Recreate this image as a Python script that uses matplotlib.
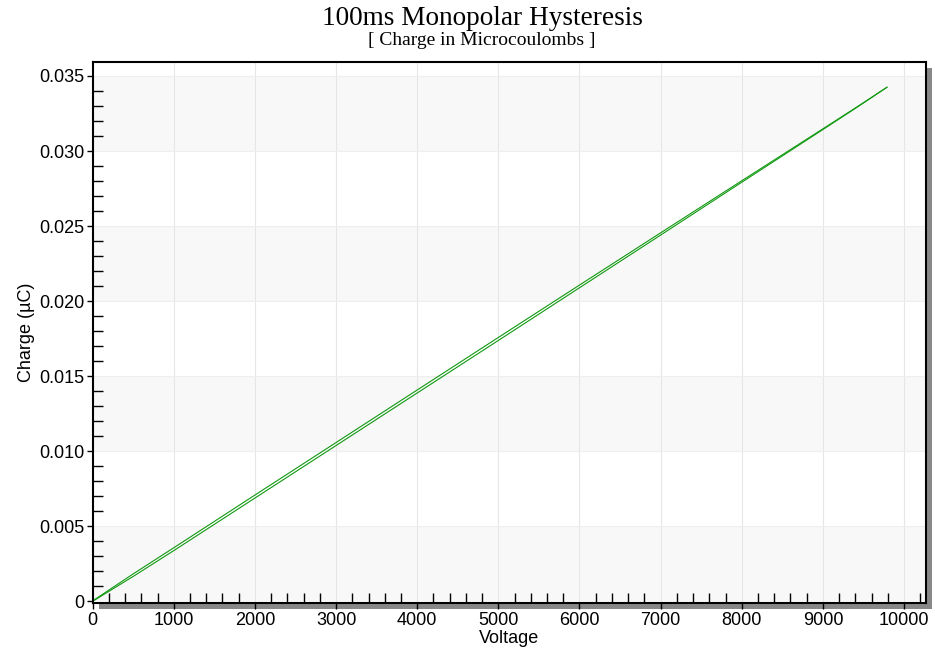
import matplotlib
matplotlib.use("Agg")
import matplotlib.pyplot as plt
from matplotlib.ticker import MultipleLocator, FuncFormatter

# hysteresis loop: charging (lower) and discharging (upper) branch
voltage = [0, 500, 1000, 2000, 3000, 4000, 5000, 6000, 7000, 8000, 9000, 9400, 9790]
charge_up = [0.0, 0.00166, 0.00338, 0.00688, 0.01038, 0.01388, 0.01738, 0.02089, 0.02440, 0.02792, 0.03143, 0.03284, 0.03425]
charge_down = [0.00003, 0.00183, 0.00357, 0.00708, 0.01058, 0.01408, 0.01758, 0.02107, 0.02455, 0.02802, 0.03148, 0.03287, 0.03425]

xmin, xmax = 0, 10270
ymin, ymax = -0.00013, 0.03593

fig = plt.figure(figsize=(9.35, 6.62), dpi=100)
pos = [0.0991, 0.0887, 0.8912, 0.8176]

# drop shadow behind the plot area
dx, dy = 6 / 935, 6 / 662
shadow = fig.add_axes([pos[0] + dx, pos[1] - dy, pos[2], pos[3]])
shadow.set_facecolor("#888888")
shadow.set_xticks([])
shadow.set_yticks([])
for s in shadow.spines.values():
    s.set_visible(False)
shadow.set_zorder(0)

ax = fig.add_axes(pos)
ax.set_zorder(1)
ax.set_xlim(xmin, xmax)
ax.set_ylim(ymin, ymax)

# alternating bands
for lo in [0.0, 0.010, 0.020, 0.030]:
    ax.axhspan(lo, lo + 0.005, color="#f8f8f8", zorder=0, lw=0)
ax.set_facecolor("white")

for xv in range(1000, 11000, 1000):
    ax.axvline(xv, color="#e6e6e6", lw=0.8, zorder=1)
for yv in [0.005, 0.010, 0.015, 0.020, 0.025, 0.030, 0.035]:
    ax.axhline(yv, color="#eeeeee", lw=0.8, zorder=1)

ax.plot(voltage, charge_up, color="#119911", lw=0.8, zorder=3)
ax.plot(voltage, charge_down, color="#119911", lw=0.8, zorder=3)

ax.xaxis.set_major_locator(MultipleLocator(1000))
ax.xaxis.set_minor_locator(MultipleLocator(200))
ax.yaxis.set_major_locator(MultipleLocator(0.005))
ax.yaxis.set_minor_locator(MultipleLocator(0.001))
ax.xaxis.set_major_formatter(FuncFormatter(lambda v, p: "%d" % round(v)))
ax.yaxis.set_major_formatter(FuncFormatter(lambda v, p: "0" if abs(v) < 1e-9 else "%.3f" % v))

ax.tick_params(which="major", direction="out", length=4, width=1, labelsize=13, pad=2)
ax.tick_params(which="minor", direction="in", length=7, width=1)
for s in ax.spines.values():
    s.set_linewidth(1.5)
    s.set_zorder(4)

for lab in ax.get_xticklabels() + ax.get_yticklabels():
    lab.set_fontfamily("Liberation Sans")

ax.set_xlabel("Voltage", fontsize=13, family="Liberation Sans", labelpad=1)
ax.set_ylabel("Charge (µC)", fontsize=13, family="Liberation Sans", labelpad=3)

fig.text(482 / 935, 1 - 25 / 662, "100ms Monopolar Hysteresis", ha="center", va="baseline",
         fontsize=19.6, family="Liberation Serif")
fig.text(482 / 935, 1 - 45 / 662, "[ Charge in Microcoulombs ]", ha="center", va="baseline",
         fontsize=14, family="Liberation Serif")

fig.savefig("out.png", dpi=100)
